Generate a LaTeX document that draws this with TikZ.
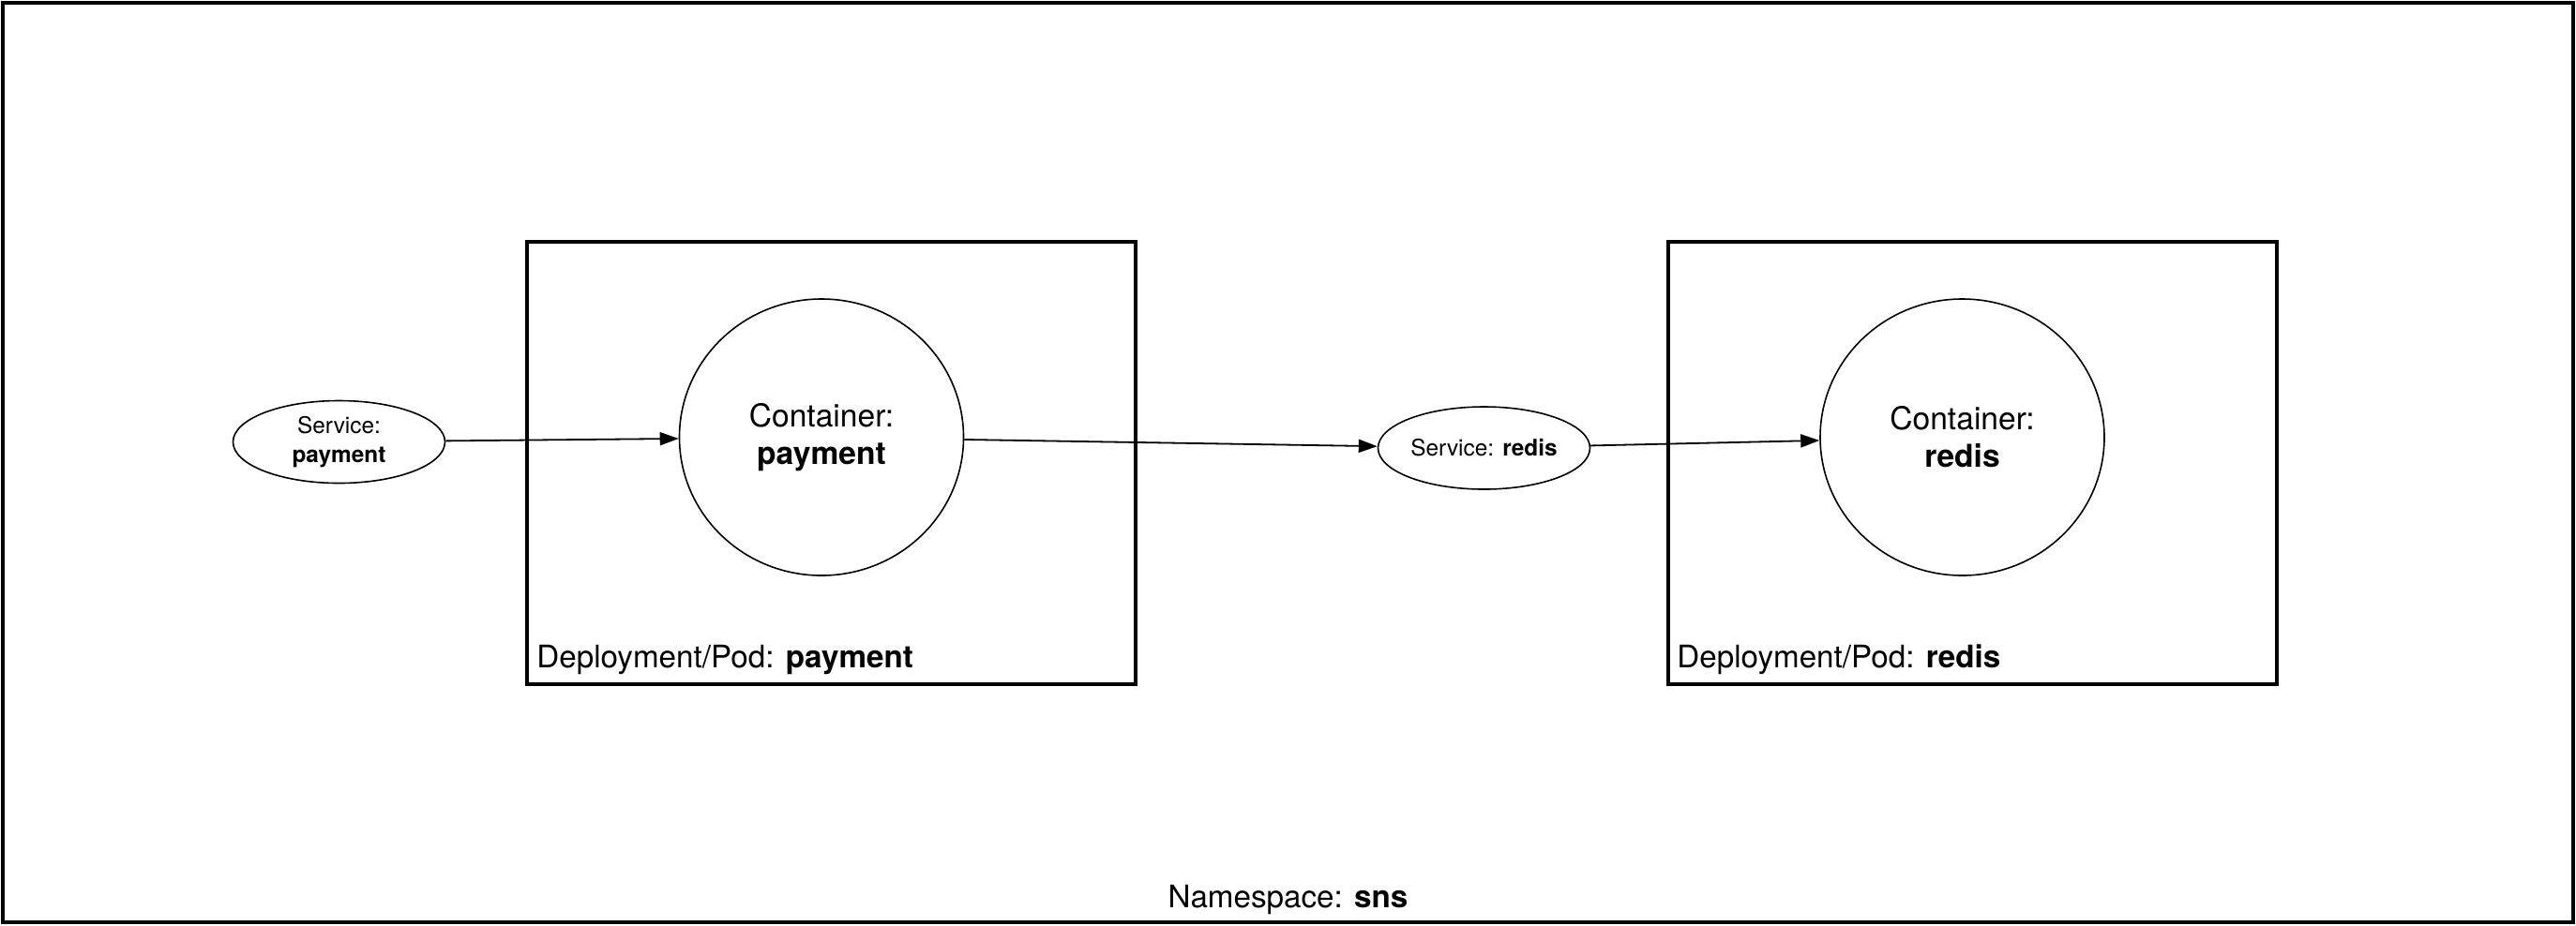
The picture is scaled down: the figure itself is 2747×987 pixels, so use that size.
\documentclass[tikz,border=0pt]{standalone}
\usepackage{fontspec}
\setmainfont{TeX Gyre Heros}
\usetikzlibrary{arrows.meta,shapes.geometric}

\begin{document}
\begin{tikzpicture}[x=0.5pt,y=-0.5pt]

% definitions
\tikzstyle{namespace} = [rectangle, minimum width=1370.5pt, minimum height=490.5pt, draw=black, line width=1.8pt, inner sep=0pt]

\tikzstyle{pod} = [rectangle, minimum width=324.5pt, minimum height=236pt, draw=black, line width=1.8pt, inner sep=0pt]

\tikzstyle{container} = [ellipse, minimum width=151.5pt, minimum height=147.5pt, text centered, align=center, draw=black, line width=0.8pt, inner sep=0pt, font=\fontsize{16.8pt}{20pt}\selectfont]

\tikzstyle{service} = [ellipse, minimum width=113pt, minimum height=44pt, text centered, align=center, draw=black, line width=0.8pt, inner sep=0pt, font=\fontsize{12.2pt}{15.5pt}\selectfont]

\tikzstyle{caption} = [inner sep=0pt, font=\fontsize{16.6pt}{19pt}\selectfont]

\tikzstyle{arrow} = [-{Triangle[length=10pt,width=7pt]}, line width=0.9pt]

\useasboundingbox (0,0) rectangle (2747,987);

% the graph
\node (ns) [namespace] at (1373.5,493.5) {};
\node (nslabel) [caption, anchor=base] at (1373.5,968) {Namespace: \textbf{sns}};

\node (podpay) [pod] at (886.5,494) {};
\node (podpaylabel) [caption, anchor=base west] at (572,712) {Deployment/Pod: \textbf{payment}};

\node (podredis) [pod] at (2103.5,494) {};
\node (podredislabel) [caption, anchor=base west] at (1788,712) {Deployment/Pod: \textbf{redis}};

\node (svcpay) [service] at (361.5,471.5) {Service:\\\textbf{payment}};

\node (conpay) [container] at (876,466.5) {Container:\\\textbf{payment}};

\node (svcredis) [service] at (1582.5,478) {Service: \textbf{redis}};

\node (conredis) [container] at (2092.5,466.5) {Container:\\\textbf{redis}};


\draw [arrow] (svcpay) -- (conpay);
\draw [arrow] (conpay) -- (svcredis);
\draw [arrow] (svcredis) -- (conredis);

\end{tikzpicture}
\end{document}
